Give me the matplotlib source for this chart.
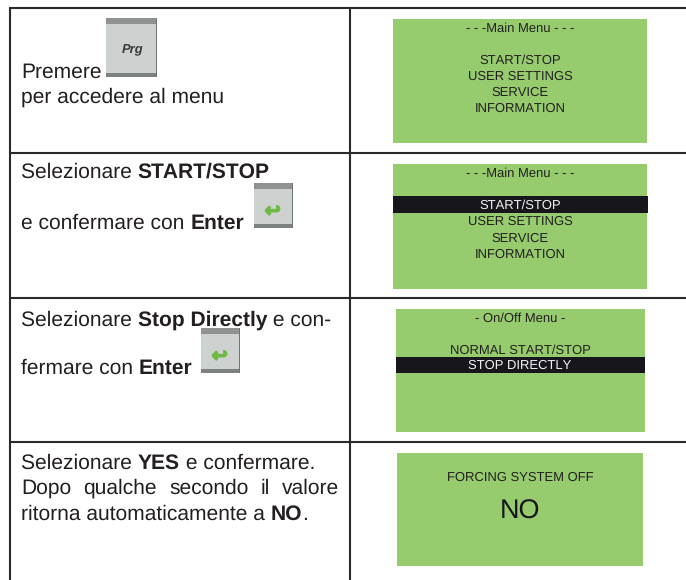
import matplotlib
matplotlib.use("Agg")
import matplotlib.pyplot as plt
import matplotlib.patheffects as pe
from matplotlib.patches import Rectangle

plt.rcParams["text.hinting"] = "no_hinting"
plt.rcParams["text.hinting_factor"] = 1

W, H = 686, 580
INK = "#231f20"
GREEN = "#97cc6e"
BAR = "#16161c"
LINE = "#2b2a2b"
FONT = "Liberation Sans"
BODY = 15.3
MENU = 9.45

row_lines = [8, 153, 297.5, 441.5]
col_lines = [10, 350]

# (x, baseline, [(text, bold), ...])
left_lines = [
    (21, 77.5, [("Premere", False)]),
    (21, 102.5, [("per accedere al menu", False)]),
    (21, 178, [("Selezionare ", False), ("START/STOP", True)]),
    (21, 228.5, [("e confermare con ", False), ("Enter", True)]),
    (21, 325.5, [("Selezionare ", False), ("Stop Directly", True), (" e con-", False)]),
    (21, 373.5, [("fermare con ", False), ("Enter", True)]),
    (21, 468.5, [("Selezionare ", False), ("YES", True), (" e confermare.", False)]),
    (21, 519.5, [("ritorna automaticamente a ", False), ("NO", True), (".", False)]),
]
justified_words = ["Dopo", "qualche", "secondo", "il", "valore"]

# x0, x1, y0, y1
screens = [(393, 647, 19, 143), (393, 647, 164, 289), (396, 645, 309, 432), (397, 643, 453, 566)]
bars = [(393, 648, 196, 213), (396, 645, 357, 373)]
# text, centre x, baseline, size, colour
menu_texts = [
    ("- - -Main Menu - - -", 520, 32, MENU, INK),
    ("START/STOP", 520, 64, MENU, INK),
    ("USER SETTINGS", 520, 80, MENU, INK),
    ("SERVICE", 520, 96, MENU, INK),
    ("INFORMATION", 520, 112, MENU, INK),
    ("- - -Main Menu - - -", 520, 177, MENU, INK),
    ("START/STOP", 520, 209, MENU, "#f2f2f2"),
    ("USER SETTINGS", 520, 225, MENU, INK),
    ("SERVICE", 520, 242, MENU, INK),
    ("INFORMATION", 520, 258, MENU, INK),
    ("- On/Off Menu -", 520, 322, MENU, INK),
    ("NORMAL START/STOP", 520, 354, MENU, INK),
    ("STOP DIRECTLY", 520, 369, MENU, "#f2f2f2"),
    ("FORCING SYSTEM OFF", 520, 481, MENU, INK),
    ("NO", 520, 519, 19.5, "#16161c"),
]
# x0, x1, y0, y1, label
buttons = [(106, 157, 18, 77, "Prg"), (254, 293, 183, 228, "enter"), (201, 240, 328, 373, "enter")]

fig = plt.figure(figsize=(W / 100, H / 100), dpi=100, facecolor="white")
ax = fig.add_axes([0, 0, 1, 1])
ax.set_xlim(0, W)
ax.set_ylim(H, 0)
ax.axis("off")
r = fig.canvas.get_renderer()


def rect(x0, x1, y0, y1, color, z=1):
    ax.add_patch(Rectangle((x0, y0), x1 - x0, y1 - y0, fc=color, ec="none", zorder=z))


def put(x, y, s, bold=False):
    t = ax.text(x, y, s, family=FONT, fontsize=BODY, color=INK, va="baseline", ha="left",
                fontweight="bold" if bold else "normal", zorder=6)
    return t


def width(s, bold):
    # trailing/leading spaces are measured through a guard character
    t = put(0, 0, "|" + s + "|", bold)
    g = put(0, 0, "||", bold)
    w = t.get_window_extent(r).width - g.get_window_extent(r).width
    t.remove()
    g.remove()
    return w


for y in row_lines:
    ax.plot([col_lines[0] - 1, W], [y, y], color=LINE, lw=1.5, solid_capstyle="butt", zorder=3)
for x in col_lines:
    ax.plot([x, x], [row_lines[0], H], color=LINE, lw=1.5, solid_capstyle="butt", zorder=3)

for x0, x1, y0, y1 in screens:
    rect(x0, x1, y0, y1, GREEN)
for x0, x1, y0, y1 in bars:
    rect(x0, x1, y0, y1, BAR, 2)
for s, x, y, size, c in menu_texts:
    ax.text(x, y, s, family=FONT, fontsize=size, color=c, ha="center", va="baseline", zorder=5)

for x, y, runs in left_lines:
    for s, b in runs:
        put(x, y, s, b)
        x += width(s, b)

# justified line between the two text margins
jx0, jx1, jy = 21, 339.5, 493.5
ws = [width(w, False) for w in justified_words]
gap = (jx1 - jx0 - sum(ws)) / (len(ws) - 1)
x = jx0
for w, wd in zip(justified_words, ws):
    put(x, jy, w)
    x += wd + gap

for x0, x1, y0, y1, label in buttons:
    rect(x0, x1, y0, y1, "#cdd1d0", 2)
    rect(x0, x1, y0, y0 + 6, "#8f9290", 3)
    rect(x0, x1, y1 - 4, y1, "#7d817f", 3)
    rect(x1 - 1, x1, y0, y1, "#6f7371", 3)
    cx = (x0 + x1) / 2
    if label == "Prg":
        ax.text(cx + 1, 53, label, family=FONT, fontsize=9.5, fontweight="bold", fontstyle="italic",
                color="#3a3a3a", ha="center", va="baseline", zorder=5)
    else:
        t = ax.text(cx - 1, (y0 + y1) / 2 + 6, "\u21a9", family="DejaVu Sans", fontsize=14, fontweight="bold",
                    color="#6fb944", ha="center", va="center", zorder=5)
        t.set_path_effects([pe.withStroke(linewidth=1, foreground="#6fb944")])

fig.savefig("out.png", dpi=100, facecolor="white")
